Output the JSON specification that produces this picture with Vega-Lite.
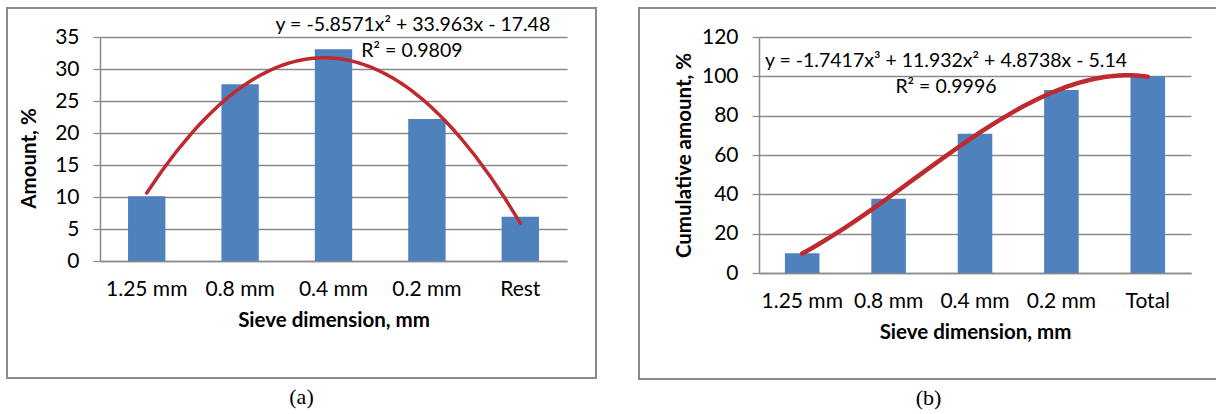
{
  "$schema": "https://vega.github.io/schema/vega-lite/v6.json",
  "padding": {"left": 6, "top": 7, "right": 0, "bottom": 0},
  "background": "white",
  "spacing": 41,
  "datasets": {
    "fractions": [
      {"sieve": "1.25 mm", "idx": 1, "amount": 10.1},
      {"sieve": "0.8 mm", "idx": 2, "amount": 27.6},
      {"sieve": "0.4 mm", "idx": 3, "amount": 33.1},
      {"sieve": "0.2 mm", "idx": 4, "amount": 22.2},
      {"sieve": "Rest", "idx": 5, "amount": 6.9}
    ],
    "cumulative": [
      {"sieve": "1.25 mm", "idx": 1, "cumulative": 10.1},
      {"sieve": "0.8 mm", "idx": 2, "cumulative": 37.7},
      {"sieve": "0.4 mm", "idx": 3, "cumulative": 70.8},
      {"sieve": "0.2 mm", "idx": 4, "cumulative": 93.0},
      {"sieve": "Total", "idx": 5, "cumulative": 100}
    ]
  },
  "hconcat": [
    {
      "width": 589,
      "height": 370,
      "title": {"text": "(a)", "orient": "bottom", "anchor": "middle", "offset": 9, "baseline": "top"},
      "data": {"name": "fractions"},
      "layer": [
        {
          "mark": {"type": "bar", "color": "#4f81bd"},
          "encoding": {
            "x": {
              "field": "sieve", "type": "nominal", "sort": null,
              "scale": {"range": [93, 560], "paddingInner": 0.6, "paddingOuter": 0.3},
              "axis": {"title": "Sieve dimension, mm", "offset": -117, "labelAngle": 0, "ticks": false, "labelPadding": 17, "titlePadding": 11, "grid": false}
            },
            "y": {
              "field": "amount", "type": "quantitative",
              "scale": {"domain": [0, 35], "range": [253, 29], "nice": false, "zero": true},
              "axis": {"title": "Amount, %", "offset": -93, "values": [0, 5, 10, 15, 20, 25, 30, 35], "tickSize": 7, "labelPadding": 14, "titlePadding": 15, "grid": true, "titleY": 150}
            }
          }
        },
        {
          "layer": [
            {
              "transform": [{"regression": "amount", "on": "idx", "method": "poly", "order": 2}],
              "mark": {"type": "line", "color": "#be2a2e", "strokeWidth": 3.5, "strokeCap": "round"},
              "encoding": {
                "x": {"field": "idx", "type": "quantitative", "scale": {"domain": [0.5, 5.5], "range": [93, 560], "nice": false, "zero": false}, "axis": null},
                "y": {"field": "amount", "type": "quantitative", "title": "Amount, %"}
              }
            },
            {
              "data": {"values": [{"label": "y = -5.8571x² + 33.963x - 17.48"}]},
              "mark": {"type": "text", "fontSize": 19.5, "baseline": "middle", "align": "center", "color": "#000"},
              "encoding": {"x": {"datum": 3.85}, "y": {"datum": 36.9}, "text": {"field": "label"}}
            },
            {
              "data": {"values": [{"label": "R² = 0.9809"}]},
              "mark": {"type": "text", "fontSize": 19.5, "baseline": "middle", "align": "center", "color": "#000"},
              "encoding": {"x": {"datum": 3.84}, "y": {"datum": 32.8}, "text": {"field": "label"}}
            }
          ]
        }
      ],
      "resolve": {"scale": {"x": "independent"}, "axis": {"x": "independent"}}
    },
    {
      "width": 579,
      "height": 371,
      "title": {"text": "(b)", "orient": "bottom", "anchor": "middle", "offset": 9, "baseline": "top"},
      "data": {"name": "cumulative"},
      "layer": [
        {
          "mark": {"type": "bar", "color": "#4f81bd"},
          "encoding": {
            "x": {
              "field": "sieve", "type": "nominal", "sort": null,
              "scale": {"range": [120, 552], "paddingInner": 0.6, "paddingOuter": 0.3},
              "axis": {"title": "Sieve dimension, mm", "offset": -106, "labelAngle": 0, "ticks": false, "labelPadding": 17, "titlePadding": 11, "grid": false}
            },
            "y": {
              "field": "cumulative", "type": "quantitative",
              "scale": {"domain": [0, 120], "range": [265, 29], "nice": false, "zero": true},
              "axis": {"title": "Cumulative amount, %", "offset": -120, "values": [0, 20, 40, 60, 80, 100, 120], "tickSize": 7, "labelPadding": 14, "titlePadding": 7, "grid": true}
            }
          }
        },
        {
          "layer": [
            {
              "transform": [{"regression": "cumulative", "on": "idx", "method": "poly", "order": 3}],
              "mark": {"type": "line", "color": "#be2a2e", "strokeWidth": 4.5, "strokeCap": "round"},
              "encoding": {
                "x": {"field": "idx", "type": "quantitative", "scale": {"domain": [0.5, 5.5], "range": [120, 552], "nice": false, "zero": false}, "axis": null},
                "y": {"field": "cumulative", "type": "quantitative", "title": "Cumulative amount, %"}
              }
            },
            {
              "data": {"values": [{"label": "y = -1.7417x³ + 11.932x² + 4.8738x - 5.14"}]},
              "mark": {"type": "text", "fontSize": 19.5, "baseline": "middle", "align": "center", "color": "#000"},
              "encoding": {"x": {"datum": 2.664}, "y": {"datum": 107.8}, "text": {"field": "label"}}
            },
            {
              "data": {"values": [{"label": "R² = 0.9996"}]},
              "mark": {"type": "text", "fontSize": 19.5, "baseline": "middle", "align": "center", "color": "#000"},
              "encoding": {"x": {"datum": 2.664}, "y": {"datum": 94.6}, "text": {"field": "label"}}
            }
          ]
        }
      ],
      "resolve": {"scale": {"x": "independent"}, "axis": {"x": "independent"}}
    }
  ],
  "config": {
    "font": "Lato",
    "view": {"stroke": "#8a8a8a", "strokeWidth": 2},
    "axis": {
      "labelFont": "Lato", "labelFontSize": 21, "labelColor": "#000",
      "titleFont": "Lato", "titleFontSize": 20.5, "titleFontWeight": "bold", "titleColor": "#000",
      "domainColor": "#8a8a8a", "domainWidth": 1.5,
      "gridColor": "#8a8a8a", "gridWidth": 1.3,
      "tickColor": "#8a8a8a", "tickWidth": 1.3
    },
    "title": {"font": "Liberation Serif", "fontSize": 22, "fontWeight": "normal", "color": "#000"}
  }
}
